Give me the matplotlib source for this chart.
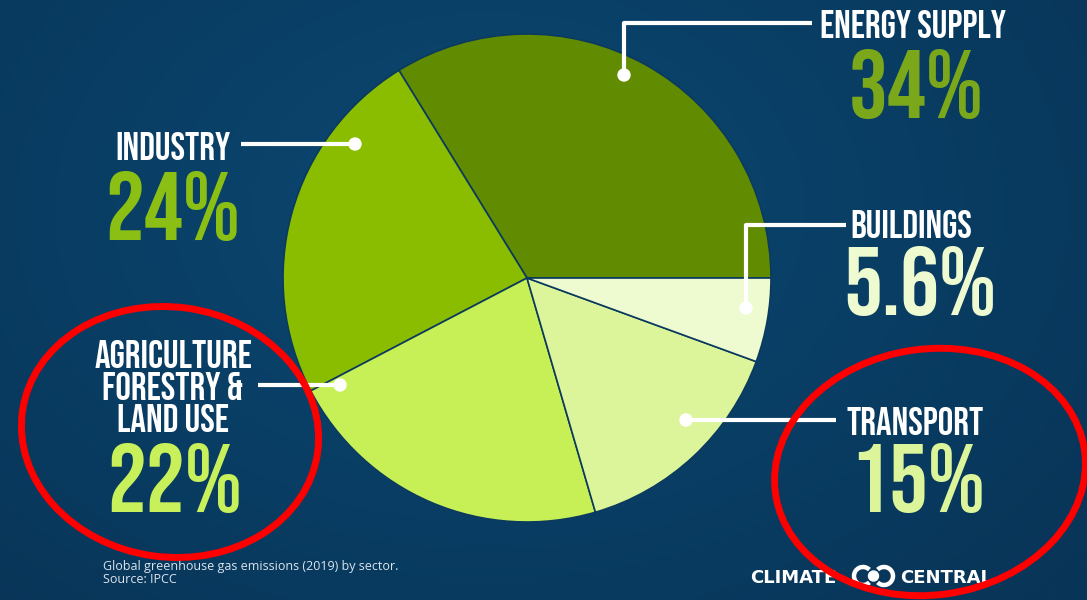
import numpy as np
import matplotlib
matplotlib.use("Agg")
import matplotlib.pyplot as plt
from matplotlib.patches import Ellipse, Circle, Arc

# sector shares of global greenhouse gas emissions, 2019
sectors = ["ENERGY SUPPLY", "INDUSTRY", "AGRICULTURE\nFORESTRY &\nLAND USE", "TRANSPORT", "BUILDINGS"]
shares = [34, 24, 22, 15, 5.6]
share_labels = ["34%", "24%", "22%", "15%", "5.6%"]
slice_colors = ["#618b00", "#8abd00", "#c6f055", "#dcf59b", "#eefbd1"]
text_colors = ["#7aa81a", "#8cbf14", "#c8f05a", "#dcf59b", "#eefbd1"]

W, H = 1087, 600
BIG = ["Bebas Neue", "DejaVu Sans"]


def Y(y):
    return H - y


fig = plt.figure(figsize=(W / 100, H / 100), dpi=100)
ax = fig.add_axes([0, 0, 1, 1])

# navy background, a touch lighter in the middle
gx, gy = np.meshgrid(np.linspace(0, 1, 400), np.linspace(0, 1, 220))
d = np.sqrt(((gx - 0.45) * 1.3) ** 2 + (gy - 0.35) ** 2)
d = np.clip(d / 0.9, 0, 1)
c0 = np.array([0x0b, 0x48, 0x72]) / 255
c1 = np.array([0x08, 0x35, 0x58]) / 255
bg = c0[None, None, :] * (1 - d[..., None]) + c1[None, None, :] * d[..., None]
ax.imshow(bg, extent=[0, W, 0, H], origin="upper", zorder=0, interpolation="bicubic")

cx, cy, r = 527, Y(278), 244
ax.pie(shares, colors=slice_colors, startangle=0, counterclock=True,
       center=(cx, cy), radius=r, frame=True,
       wedgeprops=dict(edgecolor="#0b3a5e", linewidth=1.2))
ax.set_xlim(0, W)
ax.set_ylim(0, H)
ax.set_aspect("equal")
ax.axis("off")

# leader lines: polyline points, dot at the first point
leaders = [
    [(624, 75), (624, 23), (812, 23)],
    [(355, 144), (241, 144)],
    [(340, 385), (258, 385)],
    [(686, 420), (836, 420)],
    [(746, 308), (746, 225), (846, 225)],
]
for pts in leaders:
    xs = [p[0] for p in pts]
    ys = [Y(p[1]) for p in pts]
    ax.plot(xs, ys, color="white", lw=3, solid_capstyle="butt", zorder=5)
    ax.add_patch(Circle((xs[0], ys[0]), 6, color="white", zorder=6))

# name: centre x, baseline of first line; value: centre x, baseline
name_pos = [(913, 38), (173, 160), (173, 368), (915, 435), (911, 238)]
value_pos = [(916, 118), (173, 240), (175, 512), (918, 512), (920, 315)]
line_step = 32
for i in range(len(sectors)):
    for k, line in enumerate(sectors[i].split("\n")):
        ax.text(name_pos[i][0], Y(name_pos[i][1] + k * line_step), line, color="white",
                fontsize=28, family=BIG, ha="center", va="baseline", zorder=7)
    ax.text(value_pos[i][0], Y(value_pos[i][1]), share_labels[i], color=text_colors[i],
            fontsize=70, family=BIG, ha="center", va="baseline", zorder=7)

ax.text(103, Y(570), "Global greenhouse gas emissions (2019) by sector.", color="#dce4ec",
        fontsize=9, family="Open Sans", ha="left", va="baseline", zorder=7)
ax.text(103, Y(583), "Source: IPCC", color="#dce4ec",
        fontsize=9, family="Open Sans", ha="left", va="baseline", zorder=7)

# logo
ax.text(750, Y(583), "CLIMATE", color="white", fontsize=13, fontweight="bold",
        family="DejaVu Sans", ha="left", va="baseline", zorder=7)
ax.text(900, Y(583), "CENTRAL", color="white", fontsize=13, fontweight="bold",
        family="DejaVu Sans", ha="left", va="baseline", zorder=7)
ax.add_patch(Arc((863, Y(576)), 18, 18, theta1=45, theta2=315, ec="white", lw=3.2, zorder=7))
ax.add_patch(Arc((884, Y(576)), 18, 18, theta1=225, theta2=135, ec="white", lw=3.2, zorder=7))
ax.add_patch(Circle((873.5, Y(576)), 5, color="white", zorder=7))

# red highlight rings
ax.add_patch(Ellipse((170, Y(432)), 298, 250, angle=-8, fill=False, ec="#ff0000", lw=5, zorder=8))
ax.add_patch(Ellipse((930, Y(472)), 312, 246, angle=8, fill=False, ec="#ff0000", lw=5, zorder=8))

fig.savefig("out.png", dpi=100)
